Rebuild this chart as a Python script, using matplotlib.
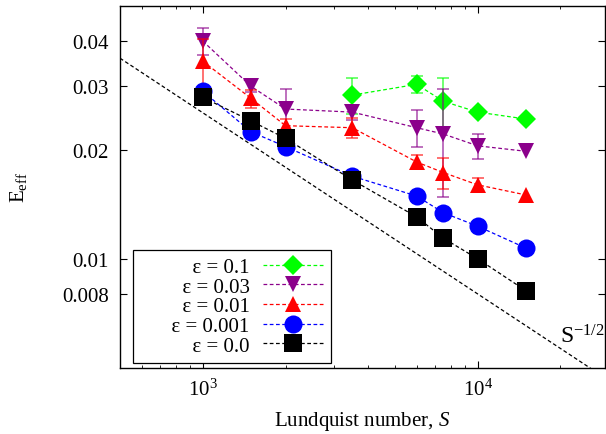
import numpy as np
import matplotlib
matplotlib.use("Agg")
import matplotlib.pyplot as plt

plt.rcParams["font.family"] = ["Liberation Serif", "DejaVu Serif"]
plt.rcParams["mathtext.fontset"] = "custom"
plt.rcParams["mathtext.rm"] = "Liberation Serif"
plt.rcParams["mathtext.it"] = "Liberation Serif:italic"
plt.rcParams["font.size"] = 15

# Lundquist numbers
S = [1000, 1500, 2000, 3500, 6000, 7500, 10000, 15000]

# effective E for each epsilon
eps01 = [np.nan, np.nan, np.nan, 0.0283, 0.0303, 0.0272, 0.0254, 0.0243]
eps003 = [0.0399, 0.0299, 0.0259, 0.0254, 0.0230, 0.0221, 0.0205, 0.0198]
eps001 = [0.0351, 0.0277, 0.0233, 0.0230, 0.0185, 0.0173, 0.0160, 0.0150]
eps0001 = [0.0290, 0.0224, 0.0204, 0.0169, 0.0149, 0.0134, 0.0123, 0.0107]
eps0 = [0.0279, 0.0240, 0.0215, 0.0165, 0.01305, 0.0114, 0.0100, 0.00816]

# error bars (0 = none drawn)
err01 = [0, 0, 0, 0.0032, 0.0017, 0.0044, 0, 0]
err003 = [0.0035, 0.0010, 0.0035, 0.0012, 0.0027, 0.0073, 0.0016, 0]
err001 = [0.0053, 0.0016, 0.0010, 0.0014, 0.0008, 0.0017, 0.0007, 0]
err0001 = [0, 0, 0, 0, 0, 0, 0, 0]
err0 = [0, 0, 0, 0, 0, 0, 0, 0]

labels = ["ε = 0.1", "ε = 0.03", "ε = 0.01", "ε = 0.001", "ε = 0.0"]
series = [eps01, eps003, eps001, eps0001, eps0]
errors = [err01, err003, err001, err0001, err0]
colors = ["#00ff00", "#8b008b", "#ff0000", "#0000ff", "#000000"]
markers = ["D", "v", "^", "o", "s"]
sizes = [10, 12, 12, 13, 13]

fig = plt.figure(figsize=(6.06, 4.35), dpi=100)
ax = fig.add_axes([0.198, 0.152, 0.800, 0.833])

x = np.array(S, dtype=float)
for y, e, c, m, ms, lab in zip(series, errors, colors, markers, sizes, labels):
    y = np.array(y)
    e = np.array(e)
    keep = e > 0
    if keep.any():
        ax.errorbar(x[keep], y[keep], yerr=e[keep], fmt="none", ecolor=c,
                    elinewidth=1.3, capsize=4, capthick=1.3, alpha=0.6)
    # leading spaces widen the legend box like the original
    ax.plot(x, y, color=c, linestyle=(0, (3, 2)), linewidth=0.9,
            marker=m, markersize=ms, markeredgewidth=0,
            label="\u2002\u2002\u2002" + lab)

# S^-1/2 reference line
sRef = np.array([500, 30000], dtype=float)
ax.plot(sRef, 0.8 / np.sqrt(sRef), color="black", linestyle=(0, (3, 2)),
        linewidth=0.9)
ax.text(20000, 0.00586, r"S$^{-1/2}$", fontsize=17, ha="left", va="baseline")

ax.set_xscale("log")
ax.set_yscale("log")
ax.set_xlim(500, 29000)
ax.set_ylim(0.005, 0.05)

yt = [0.008, 0.01, 0.02, 0.03, 0.04]
ax.set_yticks(yt)
ax.set_yticklabels(["0.008", "0.01", "0.02", "0.03", "0.04"])
ax.yaxis.set_minor_locator(matplotlib.ticker.NullLocator())

ax.tick_params(which="both", direction="in", top=True, right=True)
ax.tick_params(which="major", length=5, width=0.8, pad=8)
ax.tick_params(which="minor", length=2.5, width=0.6)
for sp in ax.spines.values():
    sp.set_linewidth(1.0)

ax.set_xlabel(r"Lundquist number, $S$", labelpad=6)
ax.set_ylabel(r"E$_{\rm eff}$", labelpad=24)

leg = ax.legend(loc="lower left", bbox_to_anchor=(0.027, 0.014),
                borderaxespad=0, markerfirst=False, numpoints=1,
                handlelength=2.9, handletextpad=0.65, labelspacing=0.0,
                borderpad=0.35, fancybox=False, framealpha=1, fontsize=15)
leg.get_frame().set_edgecolor("black")
leg.get_frame().set_linewidth(0.9)

fig.savefig("out.png", dpi=100)
